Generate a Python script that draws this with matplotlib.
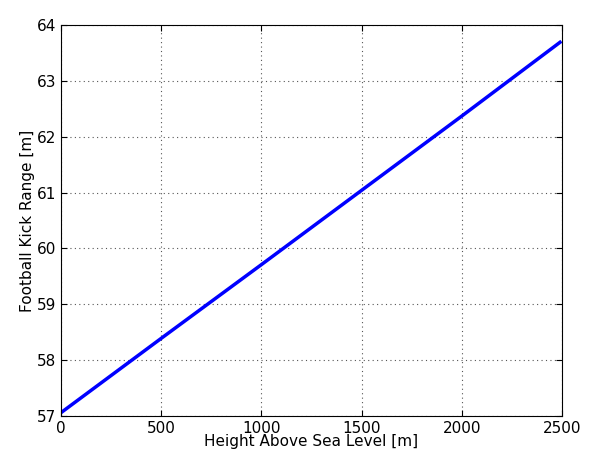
import matplotlib
matplotlib.use('Agg')
import matplotlib.pyplot as plt

height = [0, 500, 1000, 1500, 2000, 2490]
kick_range = [57.06, 58.39, 59.71, 61.04, 62.37, 63.69]

fig = plt.figure(figsize=(6, 4.54), dpi=100)
ax = fig.add_axes([0.1017, 0.0837, 0.835, 0.8613])
ax.plot(height, kick_range, color='blue', linewidth=2.5)
ax.set_xlim(0, 2500)
ax.set_ylim(57, 64)
ax.set_xticks([0, 500, 1000, 1500, 2000, 2500])
ax.set_yticks([57, 58, 59, 60, 61, 62, 63, 64])
ax.grid(True, color='#555555', linestyle=(0, (1, 3)), linewidth=0.8)
ax.tick_params(direction='in', labelsize=11, top=True, right=True, length=4)
ax.set_xlabel('Height Above Sea Level [m]', fontsize=11, labelpad=-1)
ax.set_ylabel('Football Kick Range [m]', fontsize=11, labelpad=1)
fig.savefig('out.png', dpi=100)
